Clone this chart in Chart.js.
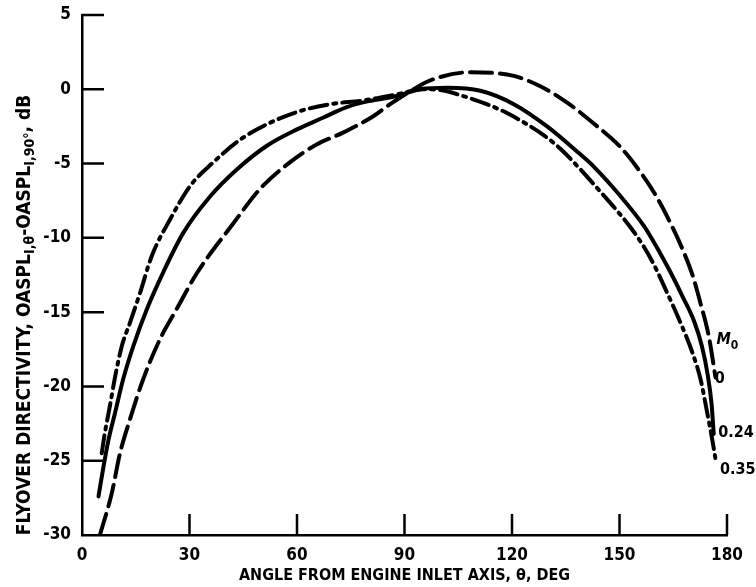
<!DOCTYPE html>
<html>
<head>
<meta charset="utf-8">
<script src="https://cdn.jsdelivr.net/npm/chart.js@4.4.1/dist/chart.umd.min.js"></script>
<style>
  html, body { margin: 0; padding: 0; background: #fff; }
  #wrap { width: 756px; height: 587px; position: relative; }
</style>
</head>
<body>
<div id="wrap"><canvas id="directivity"></canvas></div>
<script>
// flight Mach number M0 = 0 (long dashes)
const angleM0 = [5.0, 8.3, 10.6, 13.4, 17.1, 21.8, 26.4, 32.0, 42.3, 49.7, 58.1, 65.6, 73.0, 81.4, 86.0, 92.5, 97.2, 108.4, 120.5, 127.9, 135.4, 142.8, 150.3, 155.9, 160.5, 164.2, 168.0, 170.5, 172.6, 174.9, 176.8];
const dbM0 = [-30.0, -27.2, -24.5, -22.2, -19.5, -16.8, -14.8, -12.4, -9.0, -6.7, -4.9, -3.7, -2.9, -1.8, -1.0, 0.0, 0.6, 1.15, 0.9, 0.2, -0.9, -2.3, -3.9, -5.6, -7.3, -9.0, -11.0, -12.6, -14.4, -16.6, -19.4];

// M0 = 0.24 (solid)
const angleM024 = [4.6, 6.0, 7.4, 9.2, 11.5, 14.3, 18.1, 22.7, 28.3, 35.8, 43.2, 51.6, 60.0, 67.4, 73.9, 80.0, 87.9, 94.4, 101.9, 111.2, 120.5, 129.8, 138.2, 142.8, 150.3, 156.8, 161.5, 164.2, 167.5, 170.8, 173.0, 174.6, 175.7, 176.3];
const dbM024 = [-27.4, -25.4, -23.6, -21.8, -19.5, -17.3, -14.8, -12.3, -9.65, -7.2, -5.4, -3.8, -2.7, -1.9, -1.2, -0.8, -0.45, 0.0, 0.1, -0.1, -1.0, -2.5, -4.2, -5.2, -7.2, -9.2, -11.1, -12.3, -13.9, -15.6, -17.3, -19.2, -21.2, -23.2];

// M0 = 0.35 (dash-dot)
const angleM035 = [5.5, 6.4, 7.8, 9.2, 11.1, 13.4, 16.2, 19.5, 24.6, 30.2, 36.7, 44.1, 52.5, 60.9, 69.3, 78.6, 87.9, 95.0, 100.0, 105.6, 114.0, 118.6, 124.2, 128.9, 133.5, 137.2, 141.0, 144.7, 149.4, 153.1, 156.8, 159.6, 163.3, 167.0, 170.3, 172.6, 174.5, 175.9, 176.8];
const dbM035 = [-24.5, -23.1, -21.3, -19.4, -17.3, -15.7, -13.7, -11.2, -8.75, -6.5, -4.9, -3.4, -2.25, -1.46, -1.0, -0.75, -0.34, 0.0, -0.05, -0.4, -1.1, -1.6, -2.36, -3.1, -4.0, -4.9, -5.9, -6.9, -8.2, -9.3, -10.6, -11.8, -13.7, -15.7, -17.7, -19.5, -21.8, -23.6, -24.9];

// curve-end labels: text, angle, dB
const machLabels = ["0", "0.24", "0.35"];
const machLabelAngles = [176.0, 177.0, 177.5];
const machLabelDb = [-19.5, -23.1, -25.6];

const xTicks = [0, 30, 60, 90, 120, 150, 180];
const yTicks = [5, 0, -5, -10, -15, -20, -25, -30];

const FONT = "'DejaVu Sans Condensed', 'Liberation Sans Narrow', 'Liberation Sans', sans-serif";
const INK = "#000";

function pts(xs, ys) {
  return xs.map((x, i) => ({ x: x, y: ys[i] }));
}

const curve = {
  showLine: true,
  fill: false,
  borderColor: INK,
  borderWidth: 4,
  pointRadius: 0,
  cubicInterpolationMode: "monotone",
  borderCapStyle: "round",
};

const dataDirectivity = {
  datasets: [
    Object.assign({ label: "0", data: pts(angleM0, dbM0), borderDash: [22, 8] }, curve),
    Object.assign({ label: "0.24", data: pts(angleM024, dbM024), borderDash: [] }, curve),
    Object.assign({ label: "0.35", data: pts(angleM035, dbM035), borderDash: [18, 6, 3, 6] }, curve),
  ],
};

// inward tick marks, axis titles and the M0 key at the curve ends
const decorations = {
  id: "decorations",
  afterDraw(chart) {
    const ctx = chart.ctx;
    const xs = chart.scales.x;
    const ys = chart.scales.y;
    const area = chart.chartArea;
    ctx.save();
    ctx.strokeStyle = INK;
    ctx.lineWidth = 2.5;
    ctx.beginPath();
    yTicks.forEach((v) => {
      if (v === -30) return;
      const py = ys.getPixelForValue(v);
      ctx.moveTo(area.left, py);
      ctx.lineTo(area.left + 22, py);
    });
    xTicks.forEach((v) => {
      if (v === 0) return;
      const px = xs.getPixelForValue(v);
      ctx.moveTo(px, area.bottom);
      ctx.lineTo(px, area.bottom - 21);
    });
    ctx.stroke();

    ctx.fillStyle = INK;
    ctx.textBaseline = "middle";
    ctx.textAlign = "left";
    ctx.font = "bold 16px " + FONT;
    machLabels.forEach((t, i) => {
      ctx.fillText(t, xs.getPixelForValue(machLabelAngles[i]) + 2, ys.getPixelForValue(machLabelDb[i]));
    });
    // M0 header
    const mx = xs.getPixelForValue(176.5) + 2;
    const my = ys.getPixelForValue(-17.0);
    ctx.font = "italic bold 16px " + FONT;
    ctx.fillText("M", mx, my - 2);
    const mw = ctx.measureText("M").width;
    ctx.font = "bold 12px " + FONT;
    ctx.fillText("0", mx + mw, my + 4);

    // x axis title
    ctx.font = "bold 16px " + FONT;
    ctx.textAlign = "center";
    ctx.fillText("ANGLE FROM ENGINE INLET AXIS, \u03b8, DEG", (xs.getPixelForValue(0) + xs.getPixelForValue(180)) / 2, 576);

    // y axis title, rotated, with subscripts
    const parts = [
      { t: "FLYOVER DIRECTIVITY, OASPL", sub: false },
      { t: "I,\u03b8", sub: true },
      { t: "-OASPL", sub: false },
      { t: "I,90\u00b0", sub: true },
      { t: ", dB", sub: false },
    ];
    const big = "bold 19px " + FONT;
    const small = "bold 14px " + FONT;
    let total = 0;
    parts.forEach((p) => {
      ctx.font = p.sub ? small : big;
      p.w = ctx.measureText(p.t).width;
      total += p.w;
    });
    ctx.translate(25, 315);
    ctx.rotate(-Math.PI / 2);
    ctx.textAlign = "left";
    let cx = -total / 2;
    parts.forEach((p) => {
      ctx.font = p.sub ? small : big;
      ctx.fillText(p.t, cx, p.sub ? 5 : 0);
      cx += p.w;
    });
    ctx.restore();
  },
};

const optionsDirectivity = {
  responsive: false,
  animation: false,
  layout: {
    padding: { left: 0, right: 29, top: 15, bottom: 0 },
  },
  scales: {
    x: {
      type: "linear",
      min: 0,
      max: 180,
      afterBuildTicks: (scale) => {
        scale.ticks = xTicks.map((v) => ({ value: v }));
      },
      afterFit: (scale) => {
        scale.height = 52;
      },
      grid: { display: false },
      border: { display: true, color: INK, width: 2.5 },
      ticks: {
        color: INK,
        font: { family: FONT, size: 17, weight: "bold" },
        padding: 2,
        maxRotation: 0,
      },
    },
    y: {
      type: "linear",
      min: -30,
      max: 5,
      afterBuildTicks: (scale) => {
        scale.ticks = yTicks.map((v) => ({ value: v }));
      },
      afterFit: (scale) => {
        scale.width = 82;
      },
      grid: { display: false },
      border: { display: true, color: INK, width: 2.5 },
      ticks: {
        color: INK,
        font: { family: FONT, size: 17, weight: "bold" },
        padding: 3,
      },
    },
  },
  plugins: {
    legend: { display: false },
    tooltip: { enabled: false },
  },
};

const canvas = document.getElementById("directivity");
canvas.width = 756;
canvas.height = 587;
new Chart(canvas.getContext("2d"), {
  type: "scatter",
  data: dataDirectivity,
  options: optionsDirectivity,
  plugins: [decorations],
});
</script>
</body>
</html>
